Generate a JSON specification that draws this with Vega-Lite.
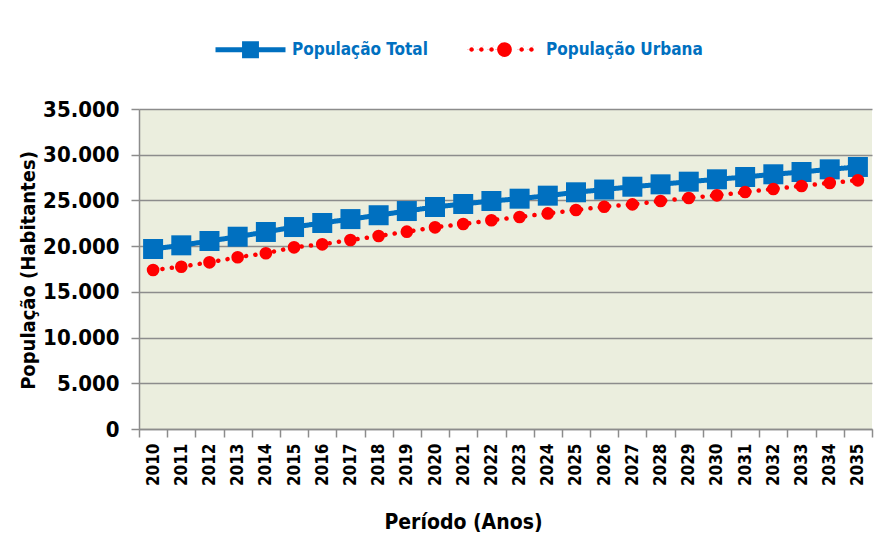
{
  "$schema": "https://vega.github.io/schema/vega-lite/v6.json",
  "width": 733,
  "height": 320,
  "autosize": {"type": "none"},
  "padding": {"left": 139, "top": 109, "right": 8, "bottom": 120},
  "background": "white",
  "data": {
    "values": [
      {"ano": "2010", "serie": "População Total", "pop": 19690},
      {"ano": "2011", "serie": "População Total", "pop": 20090},
      {"ano": "2012", "serie": "População Total", "pop": 20560},
      {"ano": "2013", "serie": "População Total", "pop": 21030},
      {"ano": "2014", "serie": "População Total", "pop": 21550},
      {"ano": "2015", "serie": "População Total", "pop": 22090},
      {"ano": "2016", "serie": "População Total", "pop": 22530},
      {"ano": "2017", "serie": "População Total", "pop": 22960},
      {"ano": "2018", "serie": "População Total", "pop": 23380},
      {"ano": "2019", "serie": "População Total", "pop": 23840},
      {"ano": "2020", "serie": "População Total", "pop": 24280},
      {"ano": "2021", "serie": "População Total", "pop": 24610},
      {"ano": "2022", "serie": "População Total", "pop": 24940},
      {"ano": "2023", "serie": "População Total", "pop": 25190},
      {"ano": "2024", "serie": "População Total", "pop": 25520},
      {"ano": "2025", "serie": "População Total", "pop": 25890},
      {"ano": "2026", "serie": "População Total", "pop": 26190},
      {"ano": "2027", "serie": "População Total", "pop": 26500},
      {"ano": "2028", "serie": "População Total", "pop": 26760},
      {"ano": "2029", "serie": "População Total", "pop": 27050},
      {"ano": "2030", "serie": "População Total", "pop": 27310},
      {"ano": "2031", "serie": "População Total", "pop": 27560},
      {"ano": "2032", "serie": "População Total", "pop": 27860},
      {"ano": "2033", "serie": "População Total", "pop": 28110},
      {"ano": "2034", "serie": "População Total", "pop": 28400},
      {"ano": "2035", "serie": "População Total", "pop": 28660},
      {"ano": "2010", "serie": "População Urbana", "pop": 17390},
      {"ano": "2011", "serie": "População Urbana", "pop": 17750},
      {"ano": "2012", "serie": "População Urbana", "pop": 18230},
      {"ano": "2013", "serie": "População Urbana", "pop": 18780},
      {"ano": "2014", "serie": "População Urbana", "pop": 19220},
      {"ano": "2015", "serie": "População Urbana", "pop": 19870},
      {"ano": "2016", "serie": "População Urbana", "pop": 20200},
      {"ano": "2017", "serie": "População Urbana", "pop": 20670},
      {"ano": "2018", "serie": "População Urbana", "pop": 21110},
      {"ano": "2019", "serie": "População Urbana", "pop": 21580},
      {"ano": "2020", "serie": "População Urbana", "pop": 22060},
      {"ano": "2021", "serie": "População Urbana", "pop": 22420},
      {"ano": "2022", "serie": "População Urbana", "pop": 22830},
      {"ano": "2023", "serie": "População Urbana", "pop": 23190},
      {"ano": "2024", "serie": "População Urbana", "pop": 23580},
      {"ano": "2025", "serie": "População Urbana", "pop": 23950},
      {"ano": "2026", "serie": "População Urbana", "pop": 24310},
      {"ano": "2027", "serie": "População Urbana", "pop": 24570},
      {"ano": "2028", "serie": "População Urbana", "pop": 24940},
      {"ano": "2029", "serie": "População Urbana", "pop": 25270},
      {"ano": "2030", "serie": "População Urbana", "pop": 25560},
      {"ano": "2031", "serie": "População Urbana", "pop": 25920},
      {"ano": "2032", "serie": "População Urbana", "pop": 26250},
      {"ano": "2033", "serie": "População Urbana", "pop": 26580},
      {"ano": "2034", "serie": "População Urbana", "pop": 26910},
      {"ano": "2035", "serie": "População Urbana", "pop": 27200}
    ]
  },
  "encoding": {
    "x": {
      "field": "ano",
      "type": "ordinal",
      "scale": {"paddingInner": 0, "paddingOuter": 0},
      "axis": {
        "title": "Período (Anos)",
        "labelAngle": -90,
        "labelAlign": "right",
        "labelBaseline": "middle",
        "labelFontSize": 17,
        "labelFontWeight": "bold",
        "labelColor": "black",
        "labelPadding": 6,
        "tickBand": "extent",
        "tickSize": 8,
        "tickColor": "#8C8C8C",
        "tickWidth": 1.5,
        "domainColor": "#8C8C8C",
        "domainWidth": 1.5,
        "grid": false,
        "titleFontSize": 21,
        "titleFontWeight": "bold",
        "titleColor": "black",
        "titleX": 324,
        "titleY": 93,
        "titleAlign": "center",
        "titleBaseline": "middle"
      }
    },
    "y": {
      "field": "pop",
      "type": "quantitative",
      "scale": {"domain": [0, 35000]},
      "axis": {
        "title": "População (Habitantes)",
        "values": [0, 5000, 10000, 15000, 20000, 25000, 30000, 35000],
        "format": ",d",
        "labelFontSize": 22,
        "labelFontWeight": "bold",
        "labelColor": "black",
        "labelPadding": 12,
        "tickSize": 8,
        "tickColor": "#8C8C8C",
        "tickWidth": 1.5,
        "domainColor": "#8C8C8C",
        "domainWidth": 1.5,
        "grid": true,
        "gridColor": "#8C8C8C",
        "gridWidth": 1.5,
        "titleFontSize": 20,
        "titleFontWeight": "bold",
        "titleColor": "black",
        "titleX": -111,
        "titleY": 161,
        "titleAlign": "center",
        "titleBaseline": "middle"
      }
    }
  },
  "layer": [
    {
      "mark": {"type": "line", "strokeCap": "round"},
      "encoding": {
        "color": {
          "field": "serie",
          "type": "nominal",
          "scale": {"domain": ["População Total", "População Urbana"], "range": ["#0070C0", "#FF0000"]},
          "legend": {
            "title": null,
            "orient": "none",
            "legendX": 74,
            "legendY": -97,
            "direction": "horizontal",
            "padding": 0,
            "symbolSize": 4900,
            "labelOffset": 4,
            "labelLimit": 0,
            "columnPadding": 32,
            "labelFontSize": 17,
            "labelFontWeight": "bold",
            "labelColor": "#0070C0",
            "encode": {
              "symbols": {
                "update": {
                  "shape": {"signal": "datum.value === 'População Total' ? 'M-1,0L1,0M-0.17,-0.17L0.17,-0.17L0.17,0.17L-0.17,0.17Z' : 'M-1.005,0a0.065,0.065 0 1,0 0.13,0a0.065,0.065 0 1,0 -0.13,0M-0.725,0a0.065,0.065 0 1,0 0.13,0a0.065,0.065 0 1,0 -0.13,0M-0.435,0a0.065,0.065 0 1,0 0.13,0a0.065,0.065 0 1,0 -0.13,0M-0.21,0a0.21,0.21 0 1,0 0.42,0a0.21,0.21 0 1,0 -0.42,0M0.425,0a0.065,0.065 0 1,0 0.13,0a0.065,0.065 0 1,0 -0.13,0M0.705,0a0.065,0.065 0 1,0 0.13,0a0.065,0.065 0 1,0 -0.13,0'"},
                  "size": {"value": 4900},
                  "fill": {"signal": "datum.value === 'População Total' ? '#0070C0' : '#FF0000'"},
                  "stroke": {"signal": "datum.value === 'População Total' ? '#0070C0' : 'transparent'"},
                  "strokeWidth": {"value": 4.5},
                  "strokeDash": {"value": [1, 0]},
                  "opacity": {"value": 1},
                  "fillOpacity": {"value": 1}
                }
              }
            }
          }
        },
        "strokeDash": {
          "field": "serie",
          "type": "nominal",
          "scale": {"domain": ["População Total", "População Urbana"], "range": [[1, 0], [0.1, 9.3]]},
          "legend": null
        },
        "strokeWidth": {
          "field": "serie",
          "type": "nominal",
          "scale": {"domain": ["População Total", "População Urbana"], "range": [5, 4.5]},
          "legend": null
        }
      }
    },
    {
      "transform": [{"filter": "datum.serie === 'População Total'"}],
      "mark": {"type": "point", "shape": "square", "size": 400, "filled": true, "opacity": 1, "color": "#0070C0", "strokeWidth": 0}
    },
    {
      "transform": [{"filter": "datum.serie === 'População Urbana'"}],
      "mark": {"type": "point", "shape": "circle", "size": 160, "filled": true, "opacity": 1, "color": "#FF0000", "strokeWidth": 0}
    }
  ],
  "config": {
    "font": "DejaVu Sans Condensed, Liberation Sans, sans-serif",
    "locale": {"number": {"decimal": ",", "thousands": ".", "grouping": [3], "currency": ["R$", ""]}},
    "view": {"fill": "#EBEEDE", "stroke": null}
  }
}
